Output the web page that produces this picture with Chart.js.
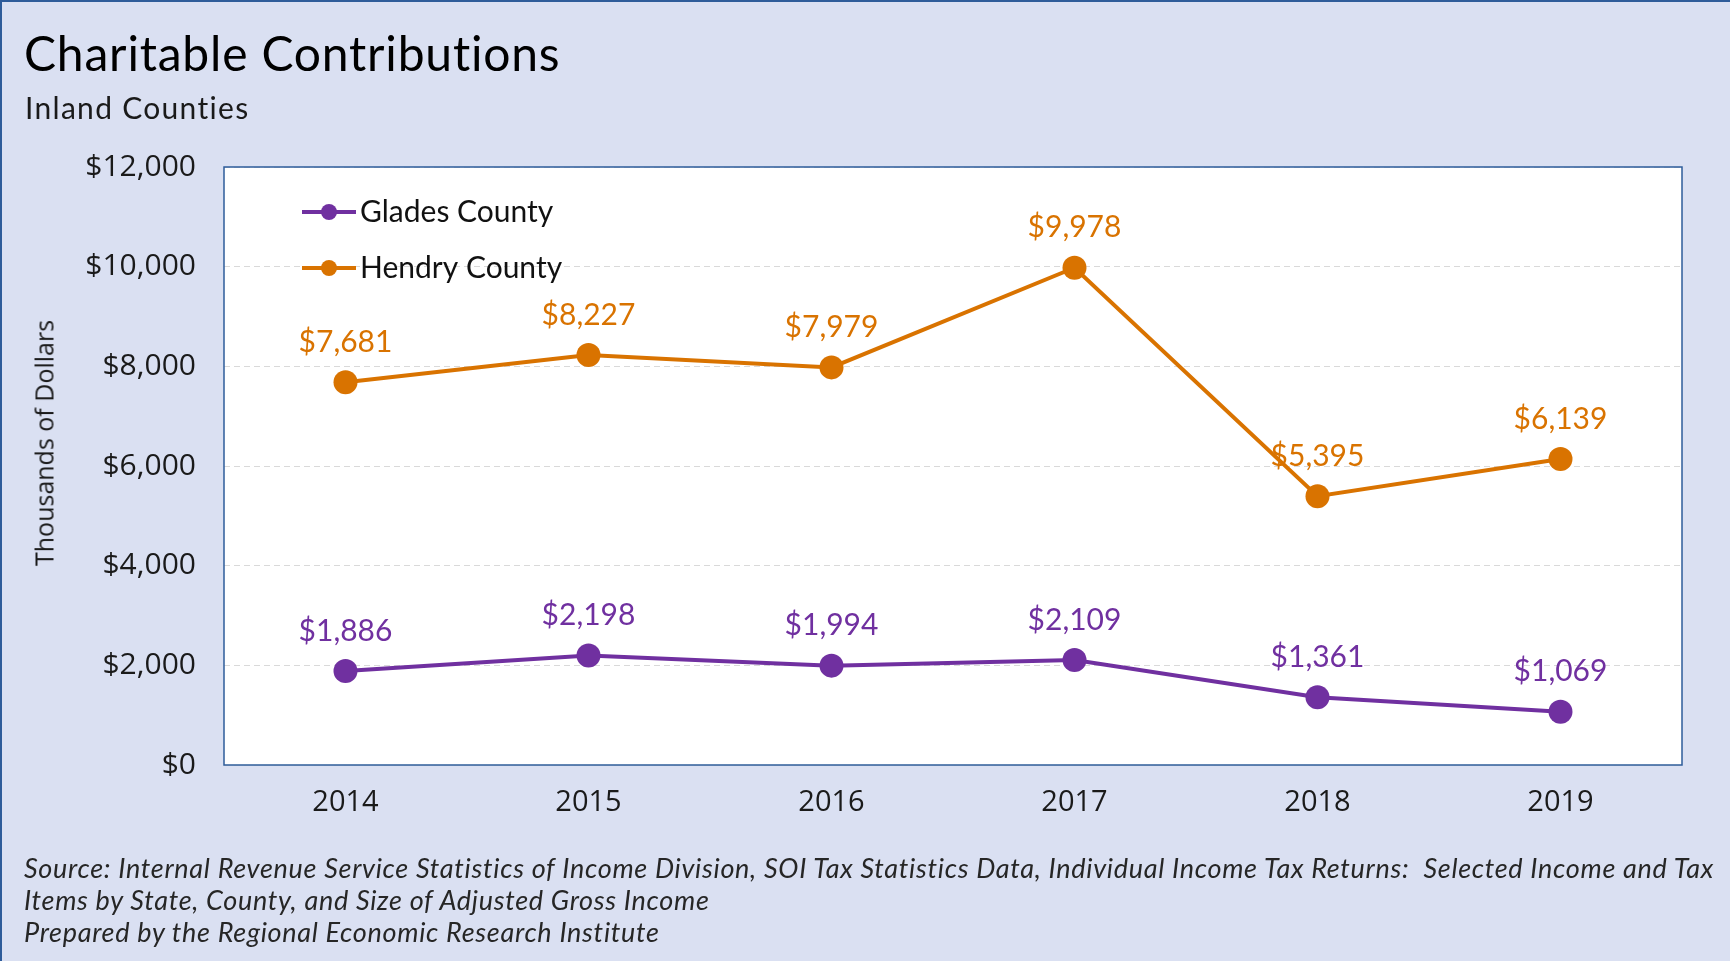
<!DOCTYPE html>
<html lang="en">
<head>
    <meta charset="UTF-8" />
    <title>Charitable Contributions</title>
    <style>
        html, body {
            margin: 0;
            padding: 0;
        }

        body {
            width: 1730px;
            height: 961px;
            overflow: hidden;
            background-color: #dae0f2;
        }

        .page {
            position: relative;
            width: 1728px;
            height: 959px;
            border-top: 2px solid #2e5c9a;
            border-left: 2px solid #2e5c9a;
            background-color: #dae0f2;
            font-family: "Lato", sans-serif;
        }

        #chart-1 {
            position: absolute;
            left: -2px;
            top: -2px;
        }

        .title {
            position: absolute;
            left: 22px;
            top: 27px;
            font-size: 48px;
            letter-spacing: 0.8px;
            line-height: 1;
            color: #000;
            white-space: nowrap;
        }

        .subtitle {
            position: absolute;
            left: 23px;
            top: 90px;
            font-size: 30px;
            letter-spacing: 1.3px;
            line-height: 1;
            color: #1a1a1a;
            white-space: nowrap;
        }

        .axis-title {
            position: absolute;
            left: 42px;
            top: 441px;
            transform: translate(-50%, -50%) rotate(-90deg);
            font-family: "Open Sans", sans-serif;
            font-size: 25px;
            line-height: 1;
            color: #1a1a1a;
            white-space: nowrap;
        }

        .source {
            position: absolute;
            left: 22px;
            top: 850px;
            font-size: 27px;
            letter-spacing: 0.7px;
            line-height: 32px;
            font-style: italic;
            color: #262626;
            white-space: nowrap;
        }
    </style>
</head>
<body>
    <div class="page">
        <canvas id="chart-1" width="1730" height="961" style="width:1730px;height:961px"></canvas>
        <div class="title">Charitable Contributions</div>
        <div class="subtitle">Inland Counties</div>
        <div class="axis-title">Thousands of Dollars</div>
        <div class="source">
            Source: Internal Revenue Service Statistics of Income Division, SOI Tax Statistics Data, Individual Income Tax Returns:&nbsp; Selected Income and Tax<br>
            Items by State, County, and Size of Adjusted Gross Income<br>
            Prepared by the Regional Economic Research Institute
        </div>
    </div>

    <script src="https://cdn.jsdelivr.net/npm/chart.js"></script>

    <script>
        // Data
        const years = ["2014", "2015", "2016", "2017", "2018", "2019"];
        const gladesCounty = [1886, 2198, 1994, 2109, 1361, 1069];
        const hendryCounty = [7681, 8227, 7979, 9978, 5395, 6139];
        const yMin = 0;
        const yMax = 12000;
        const yStep = 2000;

        const PURPLE = "#7030a0";
        const ORANGE = "#d97300";

        const money = (v) => "$" + Number(v).toLocaleString("en-US");

        // White plot background with a blue frame
        const plotFrame = {
            id: "plotFrame",
            beforeDraw(chart) {
                const { ctx, chartArea: a } = chart;
                ctx.save();
                ctx.fillStyle = "#ffffff";
                ctx.fillRect(a.left, a.top, a.right - a.left, a.bottom - a.top);
                ctx.restore();
            },
            beforeDatasetsDraw(chart) {
                const { ctx, chartArea: a } = chart;
                ctx.save();
                ctx.strokeStyle = "#2e5c9a";
                ctx.lineWidth = 1.5;
                ctx.strokeRect(a.left, a.top, a.right - a.left, a.bottom - a.top);
                ctx.restore();
            },
        };

        // Value labels above each point
        const pointLabels = {
            id: "pointLabels",
            afterDatasetsDraw(chart) {
                const { ctx } = chart;
                ctx.save();
                ctx.font = "30px Lato";
                ctx.textAlign = "center";
                ctx.textBaseline = "middle";
                chart.data.datasets.forEach((ds, i) => {
                    const meta = chart.getDatasetMeta(i);
                    ctx.fillStyle = ds.borderColor;
                    meta.data.forEach((pt, j) => {
                        ctx.fillText(money(ds.data[j]), pt.x, pt.y - 40);
                    });
                });
                ctx.restore();
            },
        };

        // Legend drawn inside the plot, top left
        const insideLegend = {
            id: "insideLegend",
            afterDraw(chart) {
                const { ctx, chartArea: a } = chart;
                ctx.save();
                ctx.font = "30px Lato";
                ctx.textBaseline = "middle";
                chart.data.datasets.forEach((ds, i) => {
                    const y = a.top + 45 + i * 56;
                    const x = a.left + 78;
                    ctx.strokeStyle = ds.borderColor;
                    ctx.lineWidth = 4;
                    ctx.beginPath();
                    ctx.moveTo(x, y);
                    ctx.lineTo(x + 54, y);
                    ctx.stroke();
                    ctx.fillStyle = ds.borderColor;
                    ctx.beginPath();
                    ctx.arc(x + 27, y, 8, 0, Math.PI * 2);
                    ctx.fill();
                    ctx.fillStyle = "#111";
                    ctx.fillText(ds.label, x + 58, y);
                });
                ctx.restore();
            },
        };

        const ctx = document.getElementById("chart-1").getContext("2d");
        const chart = new Chart(ctx, {
            type: "line",
            data: {
                labels: years,
                datasets: [
                    {
                        label: "Glades County",
                        data: gladesCounty,
                        borderColor: PURPLE,
                        backgroundColor: PURPLE,
                        borderWidth: 4,
                        pointRadius: 12,
                        pointBorderWidth: 0,
                        tension: 0,
                    },
                    {
                        label: "Hendry County",
                        data: hendryCounty,
                        borderColor: ORANGE,
                        backgroundColor: ORANGE,
                        borderWidth: 4,
                        pointRadius: 12,
                        pointBorderWidth: 0,
                        tension: 0,
                    },
                ],
            },
            options: {
                responsive: false,
                animation: false,
                devicePixelRatio: 1,
                layout: {
                    padding: { left: 0, top: 167, right: 48, bottom: 116 },
                },
                plugins: {
                    legend: { display: false },
                    tooltip: { enabled: false },
                },
                scales: {
                    x: {
                        offset: true,
                        grid: { display: false, drawTicks: false },
                        border: { display: false },
                        ticks: {
                            padding: 20,
                            color: "#1a1a1a",
                            font: { family: "Open Sans", size: 29 },
                        },
                        afterFit(scale) {
                            scale.height = 80;
                        },
                    },
                    y: {
                        min: yMin,
                        max: yMax,
                        grid: {
                            color: "#d9d9d9",
                            lineWidth: 1,
                            drawTicks: false,
                        },
                        border: { display: false, dash: [6, 4] },
                        ticks: {
                            stepSize: yStep,
                            padding: 28,
                            color: "#1a1a1a",
                            font: { family: "Open Sans", size: 30 },
                            callback: (v) => money(v),
                        },
                        afterFit(scale) {
                            scale.width = 224;
                        },
                    },
                },
            },
            plugins: [plotFrame, pointLabels, insideLegend],
        });
    </script>
</body>
</html>
